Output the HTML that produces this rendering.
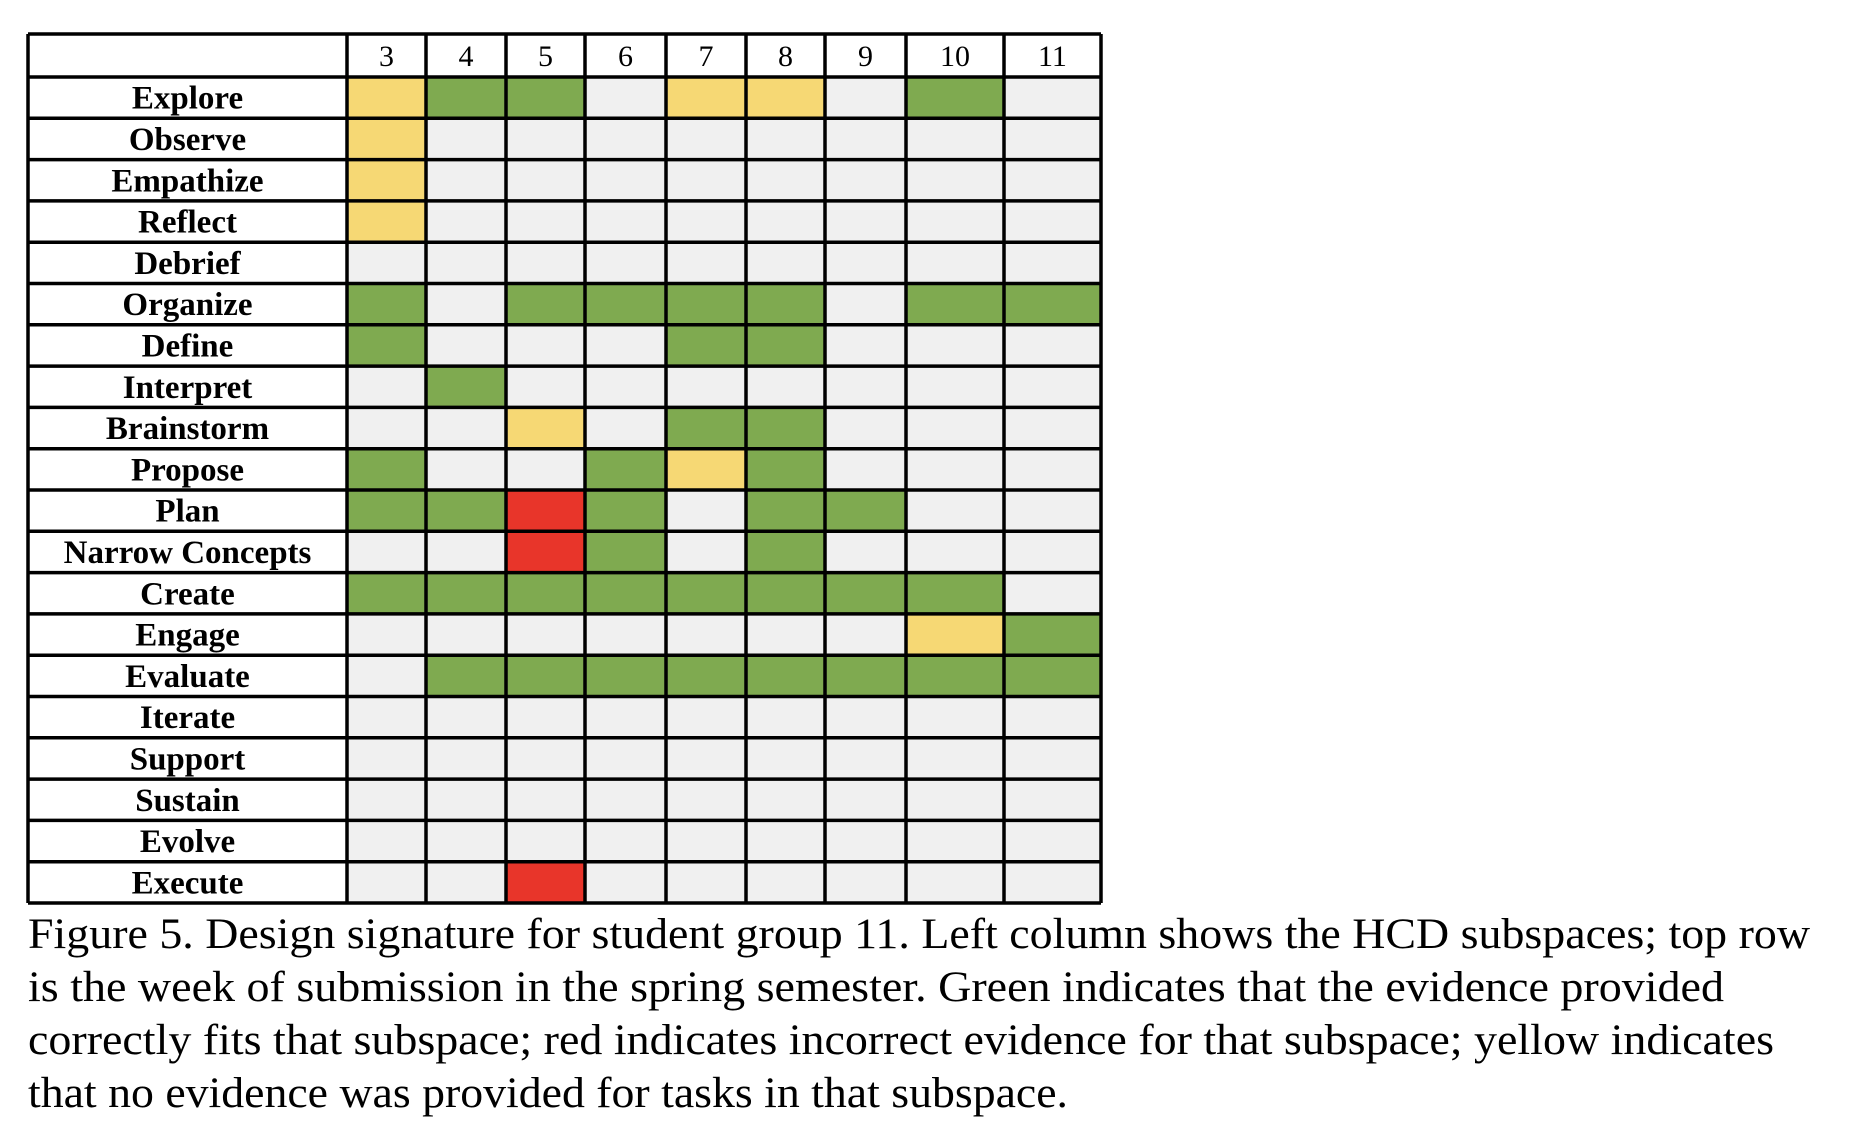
<!DOCTYPE html>
<html><head><meta charset="utf-8"><style>
html,body{margin:0;padding:0;background:#fff;}
svg{display:block;}
svg text{font-family:"Liberation Serif","Times New Roman",Times,serif;}
</style></head><body>
<svg id="chart" width="1872" height="1126" viewBox="0 0 1872 1126">
<g id="cells"></g>
<g id="grid"></g>
<g id="labels"></g>
<g font-size="43" fill="#000">
<text x="28" y="948" textLength="1782" lengthAdjust="spacingAndGlyphs">Figure 5. Design signature for student group 11. Left column shows the HCD subspaces; top row</text>
<text x="28" y="1001" textLength="1696" lengthAdjust="spacingAndGlyphs">is the week of submission in the spring semester. Green indicates that the evidence provided</text>
<text x="28" y="1054" textLength="1746" lengthAdjust="spacingAndGlyphs">correctly fits that subspace; red indicates incorrect evidence for that subspace; yellow indicates</text>
<text x="28" y="1107" textLength="1040" lengthAdjust="spacingAndGlyphs">that no evidence was provided for tasks in that subspace.</text>
</g>
</svg>
<script>
const weeks = ["3","4","5","6","7","8","9","10","11"];
const subspaces = ["Explore","Observe","Empathize","Reflect","Debrief","Organize","Define","Interpret","Brainstorm","Propose","Plan","Narrow Concepts","Create","Engage","Evaluate","Iterate","Support","Sustain","Evolve","Execute"];
// codes: G green (correct), Y yellow (none), R red (incorrect), . empty
const statusRows = [
"YGG.YY.G.",
"Y........",
"Y........",
"Y........",
".........",
"G.GGGG.GG",
"G...GG...",
".G.......",
"..Y.GG...",
"G..GYG...",
"GGRG.GG..",
"..RG.G...",
"GGGGGGGG.",
".......YG",
".GGGGGGGG",
".........",
".........",
".........",
".........",
"..R......"
];
const colEdges = [347,426,506,585,666,746,825,906,1004,1101];
const tableLeft = 28, tableTop = 34, headerBottom = 77, rowH = 41.3;
const colors = {G:"#7faa50",Y:"#f6d874",R:"#e8352a",".":"#f0f0f0"};
const NS="http://www.w3.org/2000/svg";
function mk(tag,attrs,parent){const e=document.createElementNS(NS,tag);for(const k in attrs)e.setAttribute(k,attrs[k]);parent.appendChild(e);return e;}
function rowY(i){return headerBottom+i*rowH;}
const cells=document.getElementById('cells'),grid=document.getElementById('grid'),labels=document.getElementById('labels');
const hb=mk('rect',{x:tableLeft,y:tableTop,width:colEdges[colEdges.length-1]-tableLeft,height:headerBottom-tableTop,fill:'#fff'},cells);


subspaces.forEach((s,i)=>{
  const lb=mk('rect',{x:tableLeft,y:rowY(i),width:colEdges[0]-tableLeft,height:rowH,fill:'#fff'},cells);
  
  
  weeks.forEach((w,j)=>{
    const c=statusRows[i][j];
    const r=mk('rect',{x:colEdges[j],y:rowY(i),width:colEdges[j+1]-colEdges[j],height:rowH,fill:colors[c]},cells);
    
    
  });
  const t=mk('text',{x:(tableLeft+colEdges[0])/2,y:rowY(i)+rowH/2+11,'text-anchor':'middle','font-size':33,'font-weight':'bold',fill:'#000'},labels);
  t.textContent=s;
  
  
});
weeks.forEach((w,j)=>{
  const t=mk('text',{x:(colEdges[j]+colEdges[j+1])/2,y:tableTop+32,'text-anchor':'middle','font-size':30,fill:'#000'},labels);
  t.textContent=w;
  
  
});
const bottom=rowY(subspaces.length), right=colEdges[colEdges.length-1];
const ys=[tableTop,headerBottom];subspaces.forEach((s,i)=>ys.push(rowY(i+1)));
ys.forEach(y=>{const l=mk('line',{x1:tableLeft,x2:right,y1:y,y2:y,stroke:'#000','stroke-width':3.5},grid);

});
[tableLeft].concat(colEdges).forEach(x=>{const l=mk('line',{x1:x,x2:x,y1:tableTop,y2:bottom,stroke:'#000','stroke-width':3.5},grid);

});
</script>
</body></html>
